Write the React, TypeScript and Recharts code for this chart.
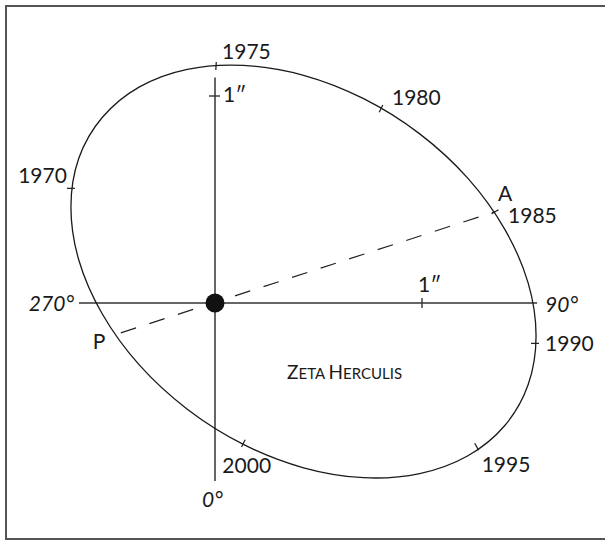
import { ComposedChart, XAxis, YAxis, Line, Scatter, ReferenceLine } from "recharts";

// apparent orbit of the companion in arcsec, x toward 90°, y toward 180° (up)
const orbitX = [1.551, 1.513, 1.4, 1.222, 0.989, 0.718, 0.428, 0.137, -0.134, -0.367, -0.545, -0.658, -0.696, -0.658, -0.545, -0.367, -0.134, 0.137, 0.428, 0.718, 0.989, 1.222, 1.4, 1.513];
const orbitY = [-0.159, -0.394, -0.592, -0.738, -0.824, -0.844, -0.796, -0.683, -0.513, -0.298, -0.052, 0.208, 0.464, 0.699, 0.896, 1.043, 1.129, 1.148, 1.1, 0.987, 0.817, 0.602, 0.356, 0.096];

// epoch marks along the orbit
const years = ["1970", "1975", "1980", "1985", "1990", "1995", "2000"];
const yearX = [-0.696, 0.005, 0.802, 1.353, 1.546, 1.264, 0.137];
const yearY = [0.554, 1.145, 0.939, 0.441, -0.195, -0.694, -0.678];

// periastron / apastron
const apsisLabels = ["P", "A"];
const apsisX = [-0.455, 1.353];
const apsisY = [-0.144, 0.441];

// position-angle axes
const angleLabels = ["270°", "90°", "0°"];
const axisEndX = [-0.657, 1.556, 0];
const axisEndY = [0, 0, -0.86];
const axisTopY = 1.089;

// 1" scale marks
const scaleX = [1, 0];
const scaleY = [0, 1];

const FONT = "Lato, 'Open Sans', sans-serif";
const INK = "#1a1a1a";

const orbit = orbitX.map((x, i) => ({ x, y: orbitY[i] }));
const yearData = years.map((label, i) => ({ x: yearX[i], y: yearY[i], label, i }));
const angleData = angleLabels.map((label, i) => ({ x: axisEndX[i], y: axisEndY[i], label, i }));
const scaleData = scaleX.map((x, i) => ({ x, y: scaleY[i], i }));
const apsisData = apsisLabels.map((label, i) => ({ x: apsisX[i], y: apsisY[i], label, i }));

// label placement (px) relative to the marked point
const yearOffsets = [
  { dx: -4, dy: -5, anchor: "end" },
  { dx: 6, dy: -7, anchor: "start" },
  { dx: 11, dy: -4, anchor: "start" },
  { dx: 13, dy: 11, anchor: "start" },
  { dx: 10, dy: 8, anchor: "start" },
  { dx: 5, dy: 25, anchor: "start" },
  { dx: -21, dy: 30, anchor: "start" },
];
const angleOffsets = [
  { dx: -5, dy: 8, anchor: "end" },
  { dx: 8, dy: 9, anchor: "start" },
  { dx: -13, dy: 26, anchor: "start" },
];
const apsisOffsets = [
  { dx: -28, dy: 16 },
  { dx: 3, dy: -11 },
];

// closed Catmull-Rom through the sampled orbit points
function closedCurve(ctx: any) {
  let pts: number[][] = [];
  return {
    areaStart() {},
    areaEnd() {},
    lineStart() {
      pts = [];
    },
    point(x: number, y: number) {
      pts.push([x, y]);
    },
    lineEnd() {
      const n = pts.length;
      if (!n) return;
      ctx.moveTo(pts[0][0], pts[0][1]);
      for (let i = 0; i < n; i++) {
        const p0 = pts[(i - 1 + n) % n];
        const p1 = pts[i];
        const p2 = pts[(i + 1) % n];
        const p3 = pts[(i + 2) % n];
        ctx.bezierCurveTo(
          p1[0] + (p2[0] - p0[0]) / 6,
          p1[1] + (p2[1] - p0[1]) / 6,
          p2[0] - (p3[0] - p1[0]) / 6,
          p2[1] - (p3[1] - p1[1]) / 6,
          p2[0],
          p2[1]
        );
      }
      ctx.closePath();
    },
  };
}

function YearMark(props: any) {
  const { cx, cy, payload } = props;
  const n = orbit.length;
  let best = 0;
  let bd = Infinity;
  orbit.forEach((p, i) => {
    const d = (p.x - payload.x) ** 2 + (p.y - payload.y) ** 2;
    if (d < bd) {
      bd = d;
      best = i;
    }
  });
  const a = orbit[(best - 1 + n) % n];
  const b = orbit[(best + 1) % n];
  let tx = b.x - a.x;
  let ty = -(b.y - a.y);
  const len = Math.hypot(tx, ty) || 1;
  tx /= len;
  ty /= len;
  const nx = -ty;
  const ny = tx;
  const off = yearOffsets[payload.i];
  return (
    <g>
      <line x1={cx - nx * 4} y1={cy - ny * 4} x2={cx + nx * 4} y2={cy + ny * 4} stroke={INK} strokeWidth={1.2} />
      <text x={cx + off.dx} y={cy + off.dy} textAnchor={off.anchor} fontFamily={FONT} fontSize={21} fill={INK}>
        {payload.label}
      </text>
    </g>
  );
}

function AngleLabel(props: any) {
  const { cx, cy, payload } = props;
  const off = angleOffsets[payload.i];
  return (
    <text x={cx + off.dx} y={cy + off.dy} textAnchor={off.anchor} fontFamily={FONT} fontStyle="italic" fontSize={21} fill={INK}>
      {payload.label}
    </text>
  );
}

function ScaleMark(props: any) {
  const { cx, cy, payload } = props;
  if (payload.i === 0) {
    return (
      <g>
        <line x1={cx} y1={cy - 5} x2={cx} y2={cy + 5} stroke="#333" strokeWidth={1.4} />
        <text x={cx - 4} y={cy - 11} fontFamily={FONT} fontSize={21} fill={INK}>1″</text>
      </g>
    );
  }
  return (
    <g>
      <line x1={cx - 6} y1={cy} x2={cx + 5} y2={cy} stroke="#333" strokeWidth={1.4} />
      <text x={cx + 8} y={cy + 6} fontFamily={FONT} fontSize={21} fill={INK}>1″</text>
    </g>
  );
}

function ApsisLabel(props: any) {
  const { cx, cy, payload } = props;
  const off = apsisOffsets[payload.i];
  return (
    <text x={cx + off.dx} y={cy + off.dy} fontFamily={FONT} fontSize={21} fill={INK}>
      {payload.label}
    </text>
  );
}

function Title(props: any) {
  const { cx, cy } = props;
  return (
    <text x={cx} y={cy} fontFamily={FONT} fill={INK}>
      <tspan fontSize={19}>Z</tspan>
      <tspan fontSize={15}>ETA </tspan>
      <tspan fontSize={19}>H</tspan>
      <tspan fontSize={15}>ERCULIS</tspan>
    </text>
  );
}

export default function App() {
  return (
    <div style={{ position: "fixed", left: 0, top: 0, width: 605, height: 540, overflow: "hidden", background: "#fff" }}>
      <div
        style={{
          position: "absolute",
          left: 5,
          top: 5,
          width: 700,
          height: 535,
          boxSizing: "border-box",
          border: "2px solid #555",
        }}
      />
      <div style={{ position: "absolute", left: 0, top: 0 }}>
        <ComposedChart width={605} height={540} margin={{ top: 13.2, right: 17.4, bottom: 9.3, left: 8 }}>
          <XAxis type="number" dataKey="x" domain={[-1, 1.8]} hide />
          <YAxis type="number" dataKey="y" domain={[-1.1, 1.4]} hide />
          <ReferenceLine segment={[{ x: axisEndX[0], y: 0 }, { x: axisEndX[1], y: 0 }]} stroke="#333" strokeWidth={1.5} ifOverflow="visible" />
          <ReferenceLine segment={[{ x: 0, y: axisEndY[2] }, { x: 0, y: axisTopY }]} stroke="#333" strokeWidth={1.5} ifOverflow="visible" />
          <ReferenceLine
            segment={[{ x: apsisX[0], y: apsisY[0] }, { x: apsisX[1], y: apsisY[1] }]}
            stroke="#222"
            strokeWidth={1.2}
            strokeDasharray="16 14"
            ifOverflow="visible"
          />
          <Line data={orbit} dataKey="y" type={closedCurve as any} stroke={INK} strokeWidth={1.3} dot={false} activeDot={false} isAnimationActive={false} />
          <Scatter data={yearData} shape={YearMark} isAnimationActive={false} />
          <Scatter data={angleData} shape={AngleLabel} isAnimationActive={false} />
          <Scatter data={scaleData} shape={ScaleMark} isAnimationActive={false} />
          <Scatter data={apsisData} shape={ApsisLabel} isAnimationActive={false} />
          <Scatter data={[{ x: 0.348, y: -0.367 }]} shape={Title} isAnimationActive={false} />
          <Scatter data={[{ x: 0, y: 0 }]} fill="#111" shape={(p: any) => <circle cx={p.cx} cy={p.cy} r={9.5} fill="#111" />} isAnimationActive={false} />
        </ComposedChart>
      </div>
    </div>
  );
}
